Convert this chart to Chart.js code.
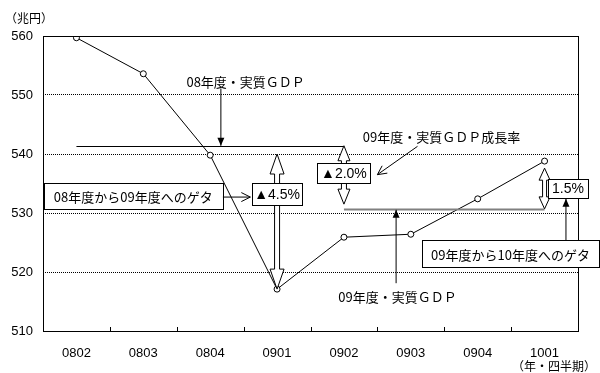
<!DOCTYPE html>
<html>
<head>
<meta charset="utf-8">
<script src="https://cdn.jsdelivr.net/npm/chart.js@4/dist/chart.umd.min.js"></script>
<style>
  html, body { margin: 0; padding: 0; background: #fff; }
  #wrap { width: 600px; height: 373px; position: relative; }
</style>
</head>
<body>
<div id="wrap"><canvas id="gdpChart" width="600" height="373"></canvas></div>
<script>
const quarters = ["0802", "0803", "0804", "0901", "0902", "0903", "0904", "1001"];
const realGdp = [559.7, 553.6, 539.8, 517.1, 525.9, 526.4, 532.4, 538.8];
const yTicks = [510, 520, 530, 540, 550, 560];
const gdpFy08 = 541.4;
const gdpFy09 = 530.7;

const JP = '"Noto Sans CJK JP", "Liberation Sans", sans-serif';
const NUM = '"Liberation Sans", Arial, sans-serif';

// hollow double-headed arrow
function hollowArrow(ctx, x, y1, y2, headW, headH, shaftW) {
  const hw = headW / 2, sw = shaftW / 2;
  ctx.beginPath();
  ctx.moveTo(x, y1);
  ctx.lineTo(x + hw, y1 + headH);
  ctx.lineTo(x + sw, y1 + headH);
  ctx.lineTo(x + sw, y2 - headH);
  ctx.lineTo(x + hw, y2 - headH);
  ctx.lineTo(x, y2);
  ctx.lineTo(x - hw, y2 - headH);
  ctx.lineTo(x - sw, y2 - headH);
  ctx.lineTo(x - sw, y1 + headH);
  ctx.lineTo(x - hw, y1 + headH);
  ctx.closePath();
  ctx.fillStyle = '#fff';
  ctx.fill();
  ctx.lineWidth = 1;
  ctx.strokeStyle = '#000';
  ctx.stroke();
}

function filledArrow(ctx, x1, y1, x2, y2) {
  ctx.beginPath();
  ctx.moveTo(x1, y1);
  ctx.lineTo(x2, y2);
  ctx.lineWidth = 1;
  ctx.strokeStyle = '#000';
  ctx.stroke();
  const a = Math.atan2(y2 - y1, x2 - x1);
  const L = 8, W = 3.5;
  ctx.beginPath();
  ctx.moveTo(x2, y2);
  ctx.lineTo(x2 - L * Math.cos(a) + W * Math.sin(a), y2 - L * Math.sin(a) - W * Math.cos(a));
  ctx.lineTo(x2 - L * Math.cos(a) - W * Math.sin(a), y2 - L * Math.sin(a) + W * Math.cos(a));
  ctx.closePath();
  ctx.fillStyle = '#000';
  ctx.fill();
}

function openArrow(ctx, x1, y1, x2, y2) {
  ctx.beginPath();
  ctx.moveTo(x1, y1);
  ctx.lineTo(x2, y2);
  const a = Math.atan2(y2 - y1, x2 - x1);
  const L = 9, W = 4.5;
  ctx.moveTo(x2 - L * Math.cos(a) + W * Math.sin(a), y2 - L * Math.sin(a) - W * Math.cos(a));
  ctx.lineTo(x2, y2);
  ctx.lineTo(x2 - L * Math.cos(a) - W * Math.sin(a), y2 - L * Math.sin(a) + W * Math.cos(a));
  ctx.lineWidth = 1;
  ctx.strokeStyle = '#000';
  ctx.stroke();
}

function box(ctx, cx, cy, w, h, text, font) {
  ctx.fillStyle = '#fff';
  ctx.fillRect(Math.round(cx - w / 2) + 0.5, Math.round(cy - h / 2) + 0.5, w, h);
  ctx.lineWidth = 1;
  ctx.strokeStyle = '#000';
  ctx.strokeRect(Math.round(cx - w / 2) + 0.5, Math.round(cy - h / 2) + 0.5, w, h);
  ctx.fillStyle = '#000';
  ctx.font = font;
  ctx.textAlign = 'center';
  ctx.textBaseline = 'middle';
  ctx.fillText(text, cx, cy + 1);
}

function label(ctx, x, y, text, font, align) {
  ctx.fillStyle = '#000';
  ctx.font = font;
  ctx.textAlign = align || 'center';
  ctx.textBaseline = 'middle';
  ctx.fillText(text, x, y);
}

// frame, inner tick marks, unit labels
const framePlugin = {
  id: 'frame',
  afterDatasetsDraw(chart) {
    const { ctx, chartArea: a } = chart;
    ctx.save();
    ctx.strokeStyle = '#000';
    ctx.lineWidth = 1;
    ctx.strokeRect(a.left + 0.5, a.top + 0.5, a.right - a.left, a.bottom - a.top);
    const step = (a.right - a.left) / quarters.length;
    ctx.beginPath();
    for (let i = 1; i < quarters.length; i++) {
      const px = Math.round(a.left + step * i) + 0.5;
      ctx.moveTo(px, a.bottom);
      ctx.lineTo(px, a.bottom - 4);
    }
    ctx.stroke();
    label(ctx, 5, 18, '（兆円）', '12px ' + JP, 'left');
    label(ctx, 596, 366, '（年・四半期）', '12px ' + JP, 'right');
    ctx.restore();
  }
};

// GDP level lines, arrows and boxes
const notesPlugin = {
  id: 'notes',
  afterDraw(chart) {
    const { ctx, scales: { x, y } } = chart;
    const px = i => x.getPixelForValue(i);
    const py = v => y.getPixelForValue(v);
    ctx.save();

    // FY08 level
    ctx.beginPath();
    ctx.moveTo(px(0), Math.round(py(gdpFy08)) + 0.5);
    ctx.lineTo(px(4), Math.round(py(gdpFy08)) + 0.5);
    ctx.strokeStyle = '#000';
    ctx.lineWidth = 1;
    ctx.stroke();
    // FY09 level
    ctx.beginPath();
    ctx.moveTo(px(4), Math.round(py(gdpFy09)) + 0.5);
    ctx.lineTo(px(7), Math.round(py(gdpFy09)) + 0.5);
    ctx.strokeStyle = '#808080';
    ctx.lineWidth = 2;
    ctx.stroke();

    // 08年度・実質GDP
    label(ctx, px(2.53), py(552.2), '08年度・実質ＧＤＰ', '13px ' + JP);
    filledArrow(ctx, px(2.16), py(551.1), px(2.16), py(gdpFy08));

    // FY08 -> FY09 carry-over
    hollowArrow(ctx, px(3), py(540), py(realGdp[3]), 14, 20, 5);
    box(ctx, px(3), py(533.2), 50, 22, '▲4.5%', '14px ' + NUM);
    box(ctx, px(0.85), py(532.9), 179, 26, '08年度から09年度へのゲタ', '13px ' + JP);
    openArrow(ctx, px(2.19), py(532.7), px(2.6), py(532.7));

    // FY09 growth
    hollowArrow(ctx, px(4), py(gdpFy08), py(531.5), 12, 15, 5);
    box(ctx, px(4), py(536.8), 53, 20, '▲2.0%', '14px ' + NUM);
    label(ctx, px(5.46), py(542.9), '09年度・実質ＧＤＰ成長率', '13px ' + JP);
    openArrow(ctx, px(5.1), py(541.3), px(4.5), py(536.5));

    // FY09 -> FY10 carry-over
    hollowArrow(ctx, px(7), py(537.6), py(gdpFy09), 11, 12, 4);
    box(ctx, px(7.35), py(534.2), 40, 19, '1.5%', '14px ' + NUM);
    box(ctx, px(6.49), py(523.1), 177, 27, '09年度から10年度へのゲタ', '13px ' + JP);
    filledArrow(ctx, px(7.32), py(525.4), px(7.32), py(532.4));

    // 09年度・実質GDP
    label(ctx, px(4.8), py(515.8), '09年度・実質ＧＤＰ', '13px ' + JP);
    filledArrow(ctx, px(4.78), py(518.1), px(4.78), py(gdpFy09) + 1);

    ctx.restore();
  }
};

const ctx = document.getElementById('gdpChart').getContext('2d');

new Chart(ctx, {
  type: 'line',
  data: {
    labels: quarters,
    datasets: [{
      data: realGdp,
      borderColor: '#000',
      borderWidth: 1,
      pointRadius: 3,
      pointBackgroundColor: '#fff',
      pointBorderColor: '#000',
      pointBorderWidth: 1,
      tension: 0
    }]
  },
  options: {
    responsive: false,
    animation: false,
    devicePixelRatio: 1,
    layout: { padding: { left: 0, top: 36, right: 22, bottom: 0 } },
    plugins: {
      legend: { display: false },
      tooltip: { enabled: false }
    },
    scales: {
      x: {
        offset: true,
        grid: { display: false, drawTicks: false },
        border: { display: false },
        ticks: { color: '#000', font: { family: NUM, size: 13 }, padding: 15, maxRotation: 0 },
        afterFit: s => { s.height = 42; }
      },
      y: {
        min: 510,
        max: 560,
        afterBuildTicks: s => { s.ticks = yTicks.map(v => ({ value: v })); },
        grid: {
          drawTicks: false,
          color: c => (c.tick && (c.tick.value === 510 || c.tick.value === 560)) ? 'rgba(0,0,0,0)' : '#000',
          lineWidth: 1
        },
        border: { display: false, dash: [1, 1] },
        ticks: { color: '#000', font: { family: NUM, size: 13 }, padding: 10 },
        afterFit: s => { s.width = 43; }
      }
    }
  },
  plugins: [framePlugin, notesPlugin]
});
</script>
</body>
</html>
